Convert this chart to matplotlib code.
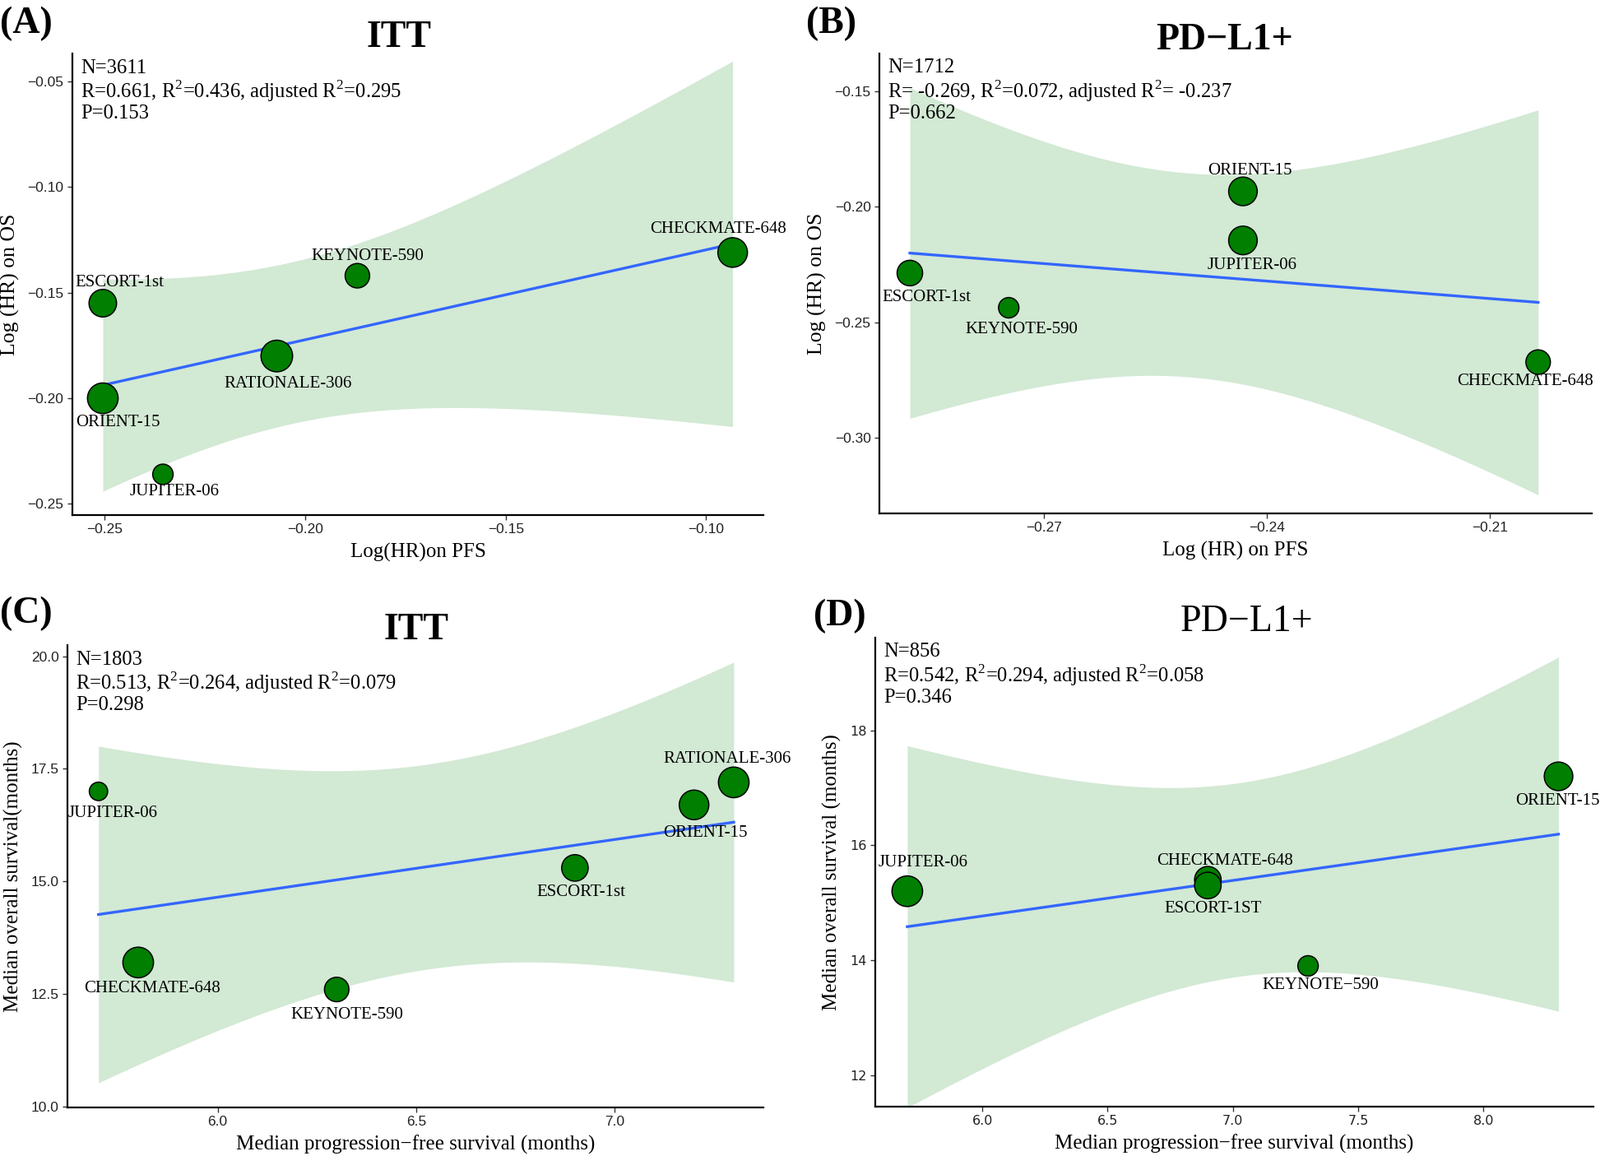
"""
Log(HR) and median survival correlations, ITT and PD-L1+ subgroups
"""
import numpy as np
import matplotlib
matplotlib.use("Agg")
import matplotlib.pyplot as plt


# (A) ITT: log(HR) on PFS vs log(HR) on OS
names_a = ["ESCORT-1st", "ORIENT-15", "JUPITER-06", "RATIONALE-306",
           "KEYNOTE-590", "CHECKMATE-648"]
pfs_a = [-0.2505, -0.2505, -0.2355, -0.2071, -0.1870, -0.0934]
os_a = [-0.155, -0.200, -0.236, -0.180, -0.142, -0.131]
wt_a = [13.5, 15, 10, 15.5, 12, 14.5]

# (B) PD-L1+: log(HR) on PFS vs log(HR) on OS
names_b = ["ESCORT-1st", "KEYNOTE-590", "ORIENT-15", "JUPITER-06",
           "CHECKMATE-648"]
pfs_b = [-0.2880, -0.2747, -0.2432, -0.2432, -0.2035]
os_b = [-0.2287, -0.2437, -0.1934, -0.2146, -0.2672]
wt_b = [12.5, 10, 14, 14, 12]

# (C) ITT: median PFS vs median OS (months)
names_c = ["JUPITER-06", "CHECKMATE-648", "KEYNOTE-590", "ESCORT-1st",
           "ORIENT-15", "RATIONALE-306"]
pfs_c = [5.7, 5.8, 6.3, 6.9, 7.2, 7.3]
os_c = [17.0, 13.2, 12.6, 15.3, 16.7, 17.2]
wt_c = [9, 15, 12, 13, 14.5, 15]

# (D) PD-L1+: median PFS vs median OS (months)
names_d = ["JUPITER-06", "CHECKMATE-648", "ESCORT-1ST", "KEYNOTE\u2212590",
           "ORIENT-15"]
pfs_d = [5.7, 6.9, 6.9, 7.3, 8.3]
os_d = [15.2, 15.4, 15.3, 13.9, 17.2]
wt_d = [15, 13, 13, 10, 14]

R2 = r"R$^\mathregular{2}$"
stats_a = "N=3611\nR=0.661, " + R2 + "=0.436, adjusted " + R2 + "=0.295\nP=0.153"
stats_b = "N=1712\nR= -0.269, " + R2 + "=0.072, adjusted " + R2 + "= -0.237\nP=0.662"
stats_c = "N=1803\nR=0.513, " + R2 + "=0.264, adjusted " + R2 + "=0.079\nP=0.298"
stats_d = "N=856\nR=0.542, " + R2 + "=0.294, adjusted " + R2 + "=0.058\nP=0.346"

# two-sided 95% t quantiles by residual df
T975 = {3: 3.182446, 4: 2.776445}

SERIF = "Liberation Serif"
SANS = "Liberation Sans"
plt.rcParams["font.family"] = SERIF
plt.rcParams["mathtext.fontset"] = "custom"
plt.rcParams["mathtext.rm"] = SERIF


def fit_band(x, y):
    x = np.asarray(x, float)
    y = np.asarray(y, float)
    n = len(x)
    slope, icpt = np.polyfit(x, y, 1)
    xs = np.linspace(x.min(), x.max(), 100)
    fit = icpt + slope * xs
    resid = y - (icpt + slope * x)
    s = np.sqrt(np.sum(resid ** 2) / (n - 2))
    sxx = np.sum((x - x.mean()) ** 2)
    half = T975[n - 2] * s * np.sqrt(1.0 / n + (xs - x.mean()) ** 2 / sxx)
    return xs, fit, fit - half, fit + half


def marker_area(w):
    d = 2 * w * 1.24 * 0.72   # diameter in points
    return d * d


def panel(ax, x, y, wt, names, offs, stats, tickfont=SANS, ticksize=12.5):
    xs, fit, lo, hi = fit_band(x, y)
    ax.fill_between(xs, lo, hi, color="#d2e9d4", lw=0, zorder=1)
    ax.plot(xs, fit, color="#3366ff", lw=2.4, zorder=2)
    ax.scatter(x, y, s=[marker_area(w) for w in wt], color="#007f00",
               edgecolor="black", linewidth=1.1, zorder=3)
    for xi, yi, nm, off in zip(x, y, names, offs):
        ax.annotate(nm, (xi, yi), xytext=off, textcoords="offset points",
                    ha="center", va="center", fontsize=15, zorder=4)
    ax.text(0.012, 0.988, stats, transform=ax.transAxes, ha="left",
            va="top", fontsize=17.7, linespacing=1.06)
    for side in ("top", "right"):
        ax.spines[side].set_visible(False)
    for side in ("left", "bottom"):
        ax.spines[side].set_linewidth(1.6)
    ax.tick_params(length=4, width=1, color="#333333", labelsize=ticksize,
                   labelcolor="#222222")
    for lab in ax.get_xticklabels() + ax.get_yticklabels():
        lab.set_family(tickfont)


fig = plt.figure(figsize=(19.45, 14.05), dpi=100)

# (A)
ax = fig.add_axes([0.0452, 0.5544, 0.432, 0.399])
offs = [(15, 18), (13.5, -21.5), (10, -15), (10, -24), (9, 17), (-12.5, 20.5)]
ax.set_xlim(-0.2581, -0.0857)
ax.set_ylim(-0.2553, -0.037)
ax.set_xticks([-0.25, -0.20, -0.15, -0.10])
ax.set_yticks([-0.25, -0.20, -0.15, -0.10, -0.05])
ax.set_xticklabels(["\u22120.25", "\u22120.20", "\u22120.15", "\u22120.10"])
ax.set_yticklabels(["\u22120.25", "\u22120.20", "\u22120.15", "\u22120.10",
                    "\u22120.05"])
panel(ax, pfs_a, os_a, wt_a, names_a, offs, stats_a)
ax.set_xlabel("Log(HR)on PFS", fontsize=18, labelpad=6)
ax.set_ylabel("Log (HR) on OS", fontsize=18.5, labelpad=7)

# (B)
ax = fig.add_axes([0.5496, 0.5559, 0.4452, 0.398])
offs = [(15, -21), (11, -19), (6, 18), (8, -21.5), (-11.5, -17)]
ax.set_xlim(-0.2921, -0.1963)
ax.set_ylim(-0.3326, -0.1337)
ax.set_xticks([-0.27, -0.24, -0.21])
ax.set_yticks([-0.30, -0.25, -0.20, -0.15])
ax.set_xticklabels(["\u22120.27", "\u22120.24", "\u22120.21"])
ax.set_yticklabels(["\u22120.30", "\u22120.25", "\u22120.20", "\u22120.15"])
panel(ax, pfs_b, os_b, wt_b, names_b, offs, stats_b)
ax.set_xlabel("Log (HR) on PFS", fontsize=18, labelpad=6)
ax.set_ylabel("Log (HR) on OS", fontsize=18.5, labelpad=7)

# (C)
ax = fig.add_axes([0.0422, 0.042, 0.435, 0.40])
offs = [(12.5, -19), (12.5, -23), (9, -22.5), (5.5, -21.5), (10, -25),
        (-5.5, 20.5)]
ax.set_xlim(5.622, 7.375)
ax.set_ylim(9.98, 20.25)
ax.set_xticks([6.0, 6.5, 7.0])
ax.set_yticks([10.0, 12.5, 15.0, 17.5, 20.0])
ax.set_xticklabels(["6.0", "6.5", "7.0"])
ax.set_yticklabels(["10.0", "12.5", "15.0", "17.5", "20.0"])
panel(ax, pfs_c, os_c, wt_c, names_c, offs, stats_c)
ax.set_xlabel("Median progression\u2212free survival (months)", fontsize=18,
              labelpad=6)
ax.set_ylabel("Median overall survival(months)", fontsize=18, labelpad=7)

# (D)
ax = fig.add_axes([0.547, 0.0427, 0.449, 0.406])
offs = [(13.5, 25), (15, 16), (4.5, -20.5), (11, -17), (-1, -21.5)]
ax.set_xlim(5.572, 8.44)
ax.set_ylim(11.45, 19.62)
ax.set_xticks([6.0, 6.5, 7.0, 7.5, 8.0])
ax.set_yticks([12, 14, 16, 18])
ax.set_xticklabels(["6.0", "6.5", "7.0", "7.5", "8.0"])
ax.set_yticklabels(["12", "14", "16", "18"])
panel(ax, pfs_d, os_d, wt_d, names_d, offs, stats_d,
      tickfont="DejaVu Sans", ticksize=11.5)
ax.set_xlabel("Median progression\u2212free survival (months)", fontsize=18,
              labelpad=6)
ax.set_ylabel("Median overall survival (months)", fontsize=18, labelpad=7)

# titles and panel letters
fig.text(485 / 1945, 1 - 57 / 1405, "ITT", ha="center", va="baseline",
         fontsize=33, fontweight="bold")
fig.text(1489 / 1945, 1 - 60 / 1405, "PD\u2212L1+", ha="center",
         va="baseline", fontsize=33, fontweight="bold")
fig.text(506 / 1945, 1 - 777 / 1405, "ITT", ha="center", va="baseline",
         fontsize=33, fontweight="bold")
fig.text(1516 / 1945, 1 - 767 / 1405, "PD\u2212L1+", ha="center",
         va="baseline", fontsize=33)
for lab, px, py in [("(A)", 0, 40), ("(B)", 980, 40), ("(C)", 0, 757),
                    ("(D)", 989, 760)]:
    fig.text(px / 1945, 1 - py / 1405, lab, ha="left", va="baseline",
             fontsize=33, fontweight="bold")

fig.savefig("out.png", dpi=100)
